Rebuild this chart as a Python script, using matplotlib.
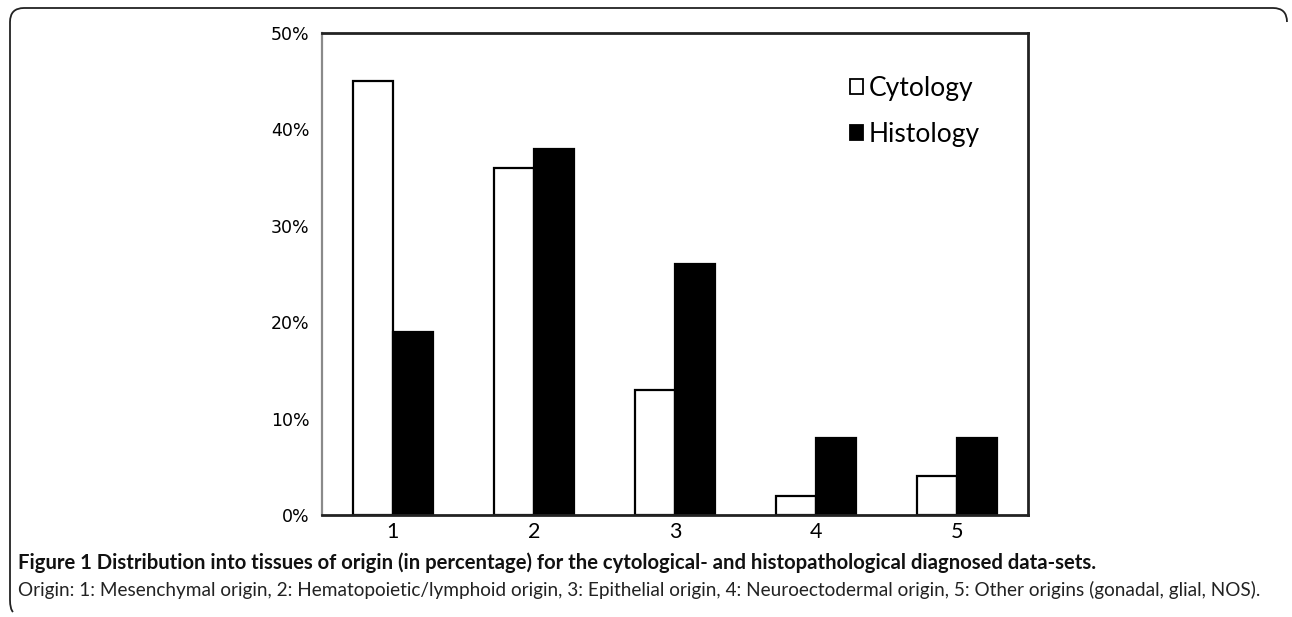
import numpy as np
import matplotlib.pyplot as plt
from matplotlib.path import Path
from matplotlib.patches import PathPatch, Patch

# values (percent)
categories = ["1", "2", "3", "4", "5"]
cytology = [45, 36, 13, 2, 4]
histology = [19, 38, 26, 8, 8]
yticks = [0, 10, 20, 30, 40, 50]

W, H = 1292, 617
fig = plt.figure(figsize=(W / 100, H / 100), dpi=100)

# outer rounded frame (open at the bottom-right like the source figure)
def fx(px):
    return px / W

def fy(py):
    return 1 - py / H

r = 14
verts = [
    (fx(13), fy(612)),
    (fx(10), fy(609)), (fx(10), fy(600)),
    (fx(10), fy(8 + r)),
    (fx(10), fy(8)), (fx(10 + r), fy(8)),
    (fx(1287 - r), fy(8)),
    (fx(1287), fy(8)), (fx(1287), fy(8 + r)),
]
codes = [Path.MOVETO, Path.CURVE3, Path.CURVE3, Path.LINETO, Path.CURVE3, Path.CURVE3,
         Path.LINETO, Path.CURVE3, Path.CURVE3]
fig.patches.append(PathPatch(Path(verts, codes), transform=fig.transFigure,
                             fill=False, edgecolor="#222222", lw=1.3))

ax = fig.add_axes([322 / W, 1 - 515 / H, (1028 - 322) / W, (515 - 33) / H])

x = np.arange(1, len(categories) + 1)
w = 0.283
ax.bar(x - w / 2, cytology, width=w, color="white", edgecolor="black", linewidth=1.6)
ax.bar(x + w / 2, histology, width=w, color="black", edgecolor="black", linewidth=1.6)

ax.set_xlim(0.5, 5.5)
ax.set_ylim(0, 50)
ax.set_xticks(x)
ax.set_xticklabels(categories, fontsize=15.5, family="Lato")
ax.set_yticks(yticks)
ax.set_yticklabels([f"{v}%" for v in yticks], fontsize=12.5, family="DejaVu Sans")
ax.tick_params(axis="both", length=0)
ax.tick_params(axis="x", pad=5)
ax.tick_params(axis="y", pad=9)

for s in ["top", "right", "bottom"]:
    ax.spines[s].set_color("#222222")
    ax.spines[s].set_linewidth(2)
ax.spines["left"].set_color("#8a8a8a")
ax.spines["left"].set_linewidth(1.6)

handles = [Patch(facecolor="white", edgecolor="black", lw=1.3, label="Cytology"),
           Patch(facecolor="black", edgecolor="black", lw=1.3, label="Histology")]
ax.legend(handles=handles, loc="upper left", bbox_to_anchor=(850 / W, 1 - 76 / H),
          bbox_transform=fig.transFigure, frameon=False, prop={"family": "Lato", "size": 19},
          handlelength=0.5, handleheight=0.5, handletextpad=0.2, labelspacing=0.8,
          borderpad=0, borderaxespad=0)

fig.text(18 / W, 1 - 563 / H,
         "Figure 1 Distribution into tissues of origin (in percentage) for the "
         "cytological- and histopathological diagnosed data-sets.",
         fontsize=14.6, fontweight="bold", family="Lato", va="center", color="#111111")
fig.text(18 / W, 1 - 590 / H,
         "Origin: 1: Mesenchymal origin, 2: Hematopoietic/lymphoid origin, 3: Epithelial origin, "
         "4: Neuroectodermal origin, 5: Other origins (gonadal, glial, NOS).",
         fontsize=13.7, family="Lato", va="center", color="#222222")

fig.savefig("out.png", dpi=100)
